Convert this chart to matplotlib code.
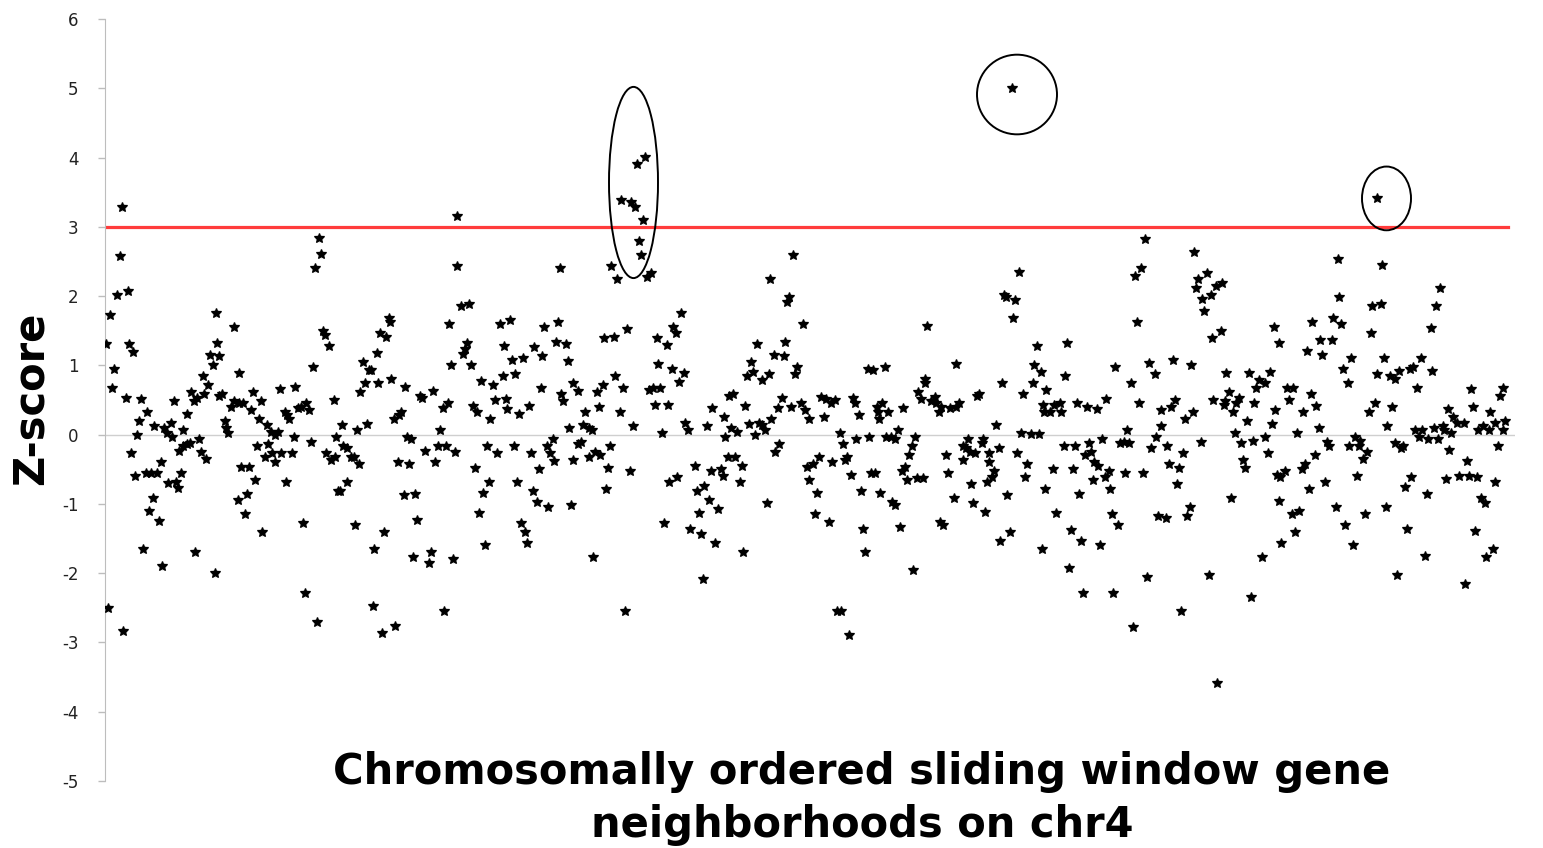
import matplotlib
matplotlib.use('Agg')
import matplotlib.pyplot as plt
import matplotlib.patches as pch

seg01 = [(1, 1.31), (3, -2.5), (5, 1.72), (7, 0.68), (9, 0.95), (12, 2.02), (15, 2.58), (17, 3.29),
         (18, -2.83), (21, 0.53), (23, 2.08), (24, 1.31), (26, -0.26), (28, 1.2), (30, -0.6), (32, -0.01),
         (34, 0.2), (36, 0.52), (38, -1.65), (41, -0.55), (42, 0.33), (44, -1.1), (46, -0.55), (48, -0.91),
         (49, 0.12), (52, -0.55), (54, -1.24), (56, -0.4), (57, -1.9), (59, 0.1), (62, 0.03), (63, -0.7),
         (66, 0.17), (67, -0.04), (69, 0.48), (71, -0.68), (73, -0.77), (74, -0.24), (76, -0.56), (78, 0.07),
         (78, -0.17), (82, 0.3), (82, -0.14), (85, -0.12), (86, 0.62), (89, 0.48), (90, -1.69), (92, 0.53),
         (94, -0.06), (96, -0.25), (98, 0.85), (99, 0.58), (101, -0.35), (103, 0.71), (105, 1.15), (108, 1.01),
         (110, -2.0), (111, 1.76), (112, 1.33), (114, 1.13), (114, 0.56)]
seg02 = [(117, 0.58), (120, 0.19), (121, 0.1), (123, 0.03), (126, 0.4), (129, 0.48), (129, 1.56), (133, -0.95),
         (134, 0.46), (134, 0.89), (136, -0.46), (138, 0.45), (140, -1.14), (142, -0.85), (144, -0.46), (146, 0.36),
         (148, 0.61), (150, -0.65), (152, -0.17), (154, 0.23), (156, 0.49), (157, -1.4), (160, -0.32), (162, 0.14),
         (163, -0.13), (166, 0.04), (167, -0.27), (170, 0.0), (170, -0.4), (173, 0.04), (175, 0.66), (176, -0.27),
         (180, 0.33), (181, -0.69), (182, 0.29), (184, 0.22), (187, -0.27), (189, -0.03), (190, 0.69), (193, 0.39),
         (196, 0.4), (198, -1.28), (200, -2.28), (201, 0.46), (204, 0.36), (206, -0.1), (208, 0.98), (210, 2.4),
         (212, -2.71), (214, 2.84), (216, 2.61), (218, 1.49), (220, 1.44), (221, -0.27), (224, 1.28), (226, -0.36),
         (229, 0.5), (230, -0.33), (231, -0.03), (233, -0.81)]
seg03 = [(235, -0.82), (237, 0.14), (238, -0.17), (242, -0.19), (242, -0.68), (246, -0.32), (249, -0.33),
         (250, -1.3), (252, 0.06), (254, -0.42), (255, 0.61), (258, 1.05), (260, 0.75), (262, 0.16), (264, 0.94),
         (266, 0.94), (268, -2.48), (269, -1.65), (272, 1.18), (273, 0.74), (275, 1.46), (277, -2.86), (279, -1.41),
         (281, 1.41), (284, 1.69), (285, 1.62), (286, 0.81), (289, 0.22), (290, -2.76), (293, -0.4), (294, 0.29),
         (296, 0.32), (299, -0.87), (300, 0.69), (302, -0.04), (304, -0.42), (306, -0.07), (308, -1.76),
         (310, -0.85), (312, -1.23), (315, 0.56), (317, 0.53), (320, -0.23), (324, -1.86), (326, -1.69), (328, 0.63),
         (330, -0.4), (333, -0.16), (335, 0.06), (338, 0.39), (339, -2.54), (341, -0.17), (343, 0.46), (344, 1.59),
         (346, 1.0), (348, -1.8), (350, -0.25)]
seg04 = [(352, 3.15), (352, 2.44), (356, 1.85), (358, 1.17), (360, 1.23), (362, 1.33), (364, 1.89), (366, 1.01),
         (368, 0.42), (370, -0.48), (372, 0.33), (374, -1.13), (376, 0.78), (378, -0.84), (380, -1.6), (382, -0.16),
         (384, -0.69), (385, 0.23), (388, 0.72), (390, 0.5), (392, -0.26), (395, 1.59), (398, 0.84), (399, 1.28),
         (401, 0.52), (402, 0.37), (405, 1.66), (407, 1.08), (409, -0.17), (410, 0.87), (412, -0.69), (414, 0.3),
         (416, -1.27), (418, 1.11), (420, -1.4), (422, -1.56), (424, 0.42), (426, -0.27), (428, -0.82), (429, 1.26),
         (432, -0.97), (434, -0.5), (436, 0.68), (437, 1.14), (439, 1.56), (442, -0.17), (443, -1.04), (445, -0.26),
         (448, -0.06), (449, -0.38), (451, 1.34), (453, 1.62), (455, 2.41), (456, 0.58), (458, 0.49), (461, 1.31),
         (463, 1.07), (464, 0.1), (466, -1.02), (468, 0.74), (468, -0.36)]
seg05 = [(473, 0.63), (473, -0.14), (476, -0.1), (478, 0.14), (480, 0.32), (484, 0.1), (484, -0.32), (487, 0.06),
         (488, -1.76), (490, -0.25), (492, 0.61), (494, 0.4), (495, -0.3), (498, 0.71), (499, 1.39), (501, -0.79),
         (503, -0.48), (505, -0.17), (506, 2.44), (509, 1.41), (510, 0.85), (512, 2.24), (515, 0.33), (516, 3.38),
         (518, 0.68), (520, -2.55), (522, 1.53), (525, -0.53), (526, 3.36), (528, 0.13), (530, 3.28), (532, 3.9),
         (534, 2.79), (536, 2.6), (538, 3.1), (540, 4.01), (542, 2.28), (544, 0.65), (546, 2.34), (548, 0.68),
         (550, 0.43), (552, 1.4), (553, 1.02), (555, 0.68), (557, 0.03), (559, -1.27), (562, 1.3), (563, 0.43),
         (564, -0.69), (567, 0.95), (568, 1.56), (571, 1.47), (572, -0.61), (574, 0.76), (576, 1.76), (579, 0.89),
         (580, 0.17), (583, 0.06), (585, -1.36)]
seg06 = [(590, -0.45), (592, -0.82), (594, -1.13), (596, -1.44), (598, -2.09), (599, -0.74), (602, 0.13),
         (604, -0.95), (606, -0.52), (607, 0.39), (610, -1.56), (613, -1.07), (616, -0.5), (618, -0.59), (619, 0.26),
         (620, -0.04), (623, -0.33), (624, 0.56), (626, 0.1), (628, 0.59), (630, -0.32), (632, 0.04), (635, -0.68),
         (637, -0.45), (638, -1.69), (640, 0.42), (642, 0.84), (644, 0.16), (646, 1.05), (648, 0.91), (650, -0.01),
         (652, 1.31), (654, 0.17), (657, 0.14), (657, 0.79), (660, 0.06), (662, -0.98), (664, 0.87), (665, 2.24),
         (666, 0.23), (669, 1.15), (670, -0.25), (673, 0.38), (674, -0.14), (677, 0.53), (679, 1.13), (680, 1.34),
         (682, 1.92), (684, 1.99), (686, 0.4), (688, 2.6), (690, 0.88), (692, 0.97), (696, 0.46), (698, 1.6),
         (700, 0.36), (702, -0.46), (704, 0.23), (704, -0.65)]
seg07 = [(708, -0.43), (710, -1.15), (712, -0.84), (714, -0.33), (716, 0.55), (719, 0.25), (721, 0.52),
         (724, -1.26), (726, 0.46), (727, -0.39), (730, 0.5), (732, -2.55), (735, 0.03), (736, -2.55), (738, -0.13),
         (740, -0.36), (742, -0.32), (744, -2.89), (746, -0.58), (748, 0.53), (750, 0.46), (751, -0.07), (754, 0.29),
         (756, -0.82), (758, -1.36), (760, -1.69), (763, 0.95), (764, -0.03), (766, -0.55), (768, 0.94),
         (770, -0.55), (772, 0.4), (773, 0.33), (774, 0.22), (775, -0.84), (777, 0.45), (780, 0.98), (781, -0.04),
         (783, 0.33), (786, -0.03), (787, -0.97), (790, -0.06), (790, -1.02), (793, 0.06), (795, -1.34),
         (797, -0.53), (798, 0.38), (800, -0.46), (802, -0.65), (804, -0.29), (807, -0.16), (808, -1.95),
         (810, -0.03), (812, -0.63), (813, 0.61), (816, 0.52), (818, -0.62), (820, 0.81), (820, 0.74), (822, 1.57)]
seg08 = [(826, 0.49), (830, 0.55), (831, 0.46), (834, 0.33), (835, -1.26), (836, 0.4), (838, -1.3), (841, -0.3),
         (843, -0.55), (845, 0.39), (849, -0.91), (851, 1.02), (851, 0.4), (854, 0.46), (858, -0.17), (858, -0.36),
         (861, -0.19), (863, -0.07), (865, -0.25), (866, -0.71), (868, -0.98), (870, -0.26), (872, 0.56),
         (874, 0.59), (877, -0.12), (878, -0.07), (880, -1.11), (882, -0.69), (884, -0.27), (884, -0.39),
         (887, -0.61), (889, -0.52), (891, 0.14), (894, -0.19), (895, -1.54), (897, 0.75), (899, 2.02), (901, 1.98),
         (902, -0.87), (905, -1.4), (907, 5.01), (908, 1.69), (910, 1.95), (912, -0.27), (914, 2.35), (916, 0.03),
         (918, 0.58), (920, -0.61), (922, -0.42), (926, 0.01), (928, 0.75), (929, 1.0), (932, 1.28), (934, 0.01),
         (936, 0.91), (937, -1.65), (938, 0.43), (940, -0.78), (941, 0.65)]
seg09 = [(939, 0.32), (945, 0.33), (948, -0.5), (949, 0.43), (951, -1.13), (955, 0.46), (956, 0.33), (959, -0.16),
         (960, 0.84), (962, 1.33), (964, -1.92), (966, -1.37), (968, -0.49), (970, -0.16), (972, 0.45),
         (974, -0.85), (976, -1.53), (978, -2.28), (980, -0.29), (982, 0.4), (984, -0.12), (986, -0.25),
         (988, -0.65), (989, -0.4), (992, 0.37), (993, -0.45), (995, -1.59), (997, -0.07), (1000, -0.61),
         (1001, 0.52), (1004, -0.52), (1005, -0.78), (1007, -1.14), (1008, -2.28), (1010, 0.98), (1013, -1.3),
         (1015, -0.12), (1019, -0.1), (1020, -0.55), (1022, 0.07), (1024, -0.12), (1026, 0.74), (1028, -2.77),
         (1030, 2.29), (1032, 1.62), (1034, 0.46), (1036, 2.4), (1038, -0.55), (1040, 2.83), (1042, -2.05),
         (1044, 1.04), (1046, -0.2), (1050, 0.87), (1051, -0.03), (1053, -1.18), (1056, 0.36), (1056, 0.12)]
seg10 = [(1061, -1.2), (1062, -0.17), (1064, -0.42), (1066, 0.4), (1068, 1.08), (1070, 0.5), (1072, -0.71),
         (1074, -0.48), (1076, -2.54), (1078, -0.26), (1080, 0.22), (1082, -1.18), (1085, -1.04), (1086, 1.0),
         (1088, 0.33), (1089, 2.63), (1091, 2.11), (1093, 2.24), (1096, -0.1), (1097, 1.96), (1099, 1.79),
         (1102, 2.34), (1104, -2.03), (1106, 2.02), (1107, 1.39), (1108, 0.5), (1111, 2.14), (1112, -3.59),
         (1116, 1.49), (1117, 2.19), (1119, 0.43), (1120, 0.48), (1121, 0.89), (1124, 0.61), (1126, -0.92),
         (1128, 0.33), (1130, 0.03), (1131, 0.46), (1134, 0.53), (1136, -0.12), (1138, -0.36), (1140, -0.48),
         (1142, 0.19), (1144, 0.89), (1146, -2.35), (1148, -0.09), (1149, 0.46), (1151, 0.68), (1154, 0.79),
         (1157, -1.77), (1160, 0.75), (1160, -0.04), (1163, -0.26), (1165, 0.91), (1167, 0.16), (1169, 1.56),
         (1170, 0.36), (1172, -0.58), (1174, 1.33), (1174, -0.96), (1176, -1.56)]
seg11 = [(1175, -0.61), (1180, -0.52), (1182, 0.68), (1184, 0.5), (1187, -1.14), (1188, 0.68), (1190, -1.41),
         (1192, 0.03), (1194, -1.1), (1197, -0.49), (1198, 0.32), (1200, -0.43), (1202, 1.21), (1204, -0.78),
         (1206, 0.59), (1207, 1.62), (1210, -0.3), (1211, 0.42), (1214, 0.1), (1215, 1.36), (1217, 1.15),
         (1220, -0.68), (1222, -0.1), (1224, -0.17), (1227, 1.36), (1228, 1.69), (1231, -1.05), (1233, 2.53),
         (1234, 1.99), (1236, 1.59), (1238, 0.95), (1240, -1.31), (1243, 0.75), (1244, -0.17), (1246, 1.1),
         (1248, -1.6), (1250, -0.03), (1252, -0.59), (1254, -0.16), (1255, -0.09), (1258, -0.35), (1260, -1.15),
         (1262, -0.25), (1264, 0.32), (1266, 1.47), (1267, 1.85), (1270, 0.45), (1272, 3.42), (1272, 0.88),
         (1276, 1.89), (1277, 2.45), (1279, 1.1), (1281, -1.05), (1282, 0.13), (1285, 0.84), (1287, 0.4),
         (1290, 0.81), (1290, -0.12), (1292, -2.03), (1294, 0.92)]
seg12 = [(1296, -0.19), (1298, -0.16), (1300, -0.75), (1302, -1.36), (1305, 0.95), (1306, -0.61), (1308, 0.98),
         (1310, 0.06), (1312, 0.68), (1314, -0.03), (1316, 1.11), (1317, 0.06), (1320, -1.75), (1322, -0.85),
         (1323, -0.07), (1326, 1.54), (1327, 0.92), (1329, 0.1), (1331, 1.85), (1333, -0.07), (1335, 2.12),
         (1338, 0.12), (1339, 0.06), (1341, -0.64), (1343, 0.37), (1344, -0.22), (1346, 0.03), (1348, 0.26),
         (1352, 0.17), (1354, -0.59), (1359, 0.17), (1360, -2.16), (1362, -0.38), (1364, -0.59), (1366, 0.66),
         (1368, 0.4), (1370, -1.39), (1372, -0.61), (1373, 0.06), (1376, -0.92), (1378, 0.12), (1380, -0.98),
         (1381, -1.77), (1384, 0.07), (1385, 0.32), (1388, -1.65), (1390, 0.17), (1390, -0.69), (1393, -0.16),
         (1395, 0.56), (1398, 0.68), (1398, 0.07), (1400, 0.19)]

threshold = 3
yticks = list(range(-5, 7))
xlabel_lines = ['Chromosomally ordered sliding window gene', 'neighborhoods on chr4']
ylabel = 'Z-score'

segments = [seg01, seg02, seg03, seg04, seg05, seg06, seg07, seg08, seg09, seg10, seg11, seg12]
pts = [p for seg in segments for p in seg]
xs = [p[0] for p in pts]
zs = [p[1] for p in pts]

plt.rcParams['axes.unicode_minus'] = False
fig = plt.figure(figsize=(15.43, 8.48), dpi=100)
ax = fig.add_axes([105 / 1543, 67 / 848, 1410 / 1543, 762 / 848])

ax.axhline(0, color='#cfcfcf', lw=1, zorder=1)
ax.plot([0, 1403], [threshold, threshold], color='#ff3b3b', lw=2.3, zorder=2)
# soft halo + star, like the blurry excel markers
ax.plot(xs, zs, ls='none', marker='o', ms=5.5, color='#555555', alpha=0.35, mew=0, zorder=3)
ax.plot(xs, zs, ls='none', marker='*', ms=7.5, color='black', mew=0.9, zorder=3)

# circled hits
for cx, cy, w, h in [(528.5, 3.64, 49, 2.76), (912, 4.91, 80, 1.15), (1281.5, 3.41, 49, 0.92)]:
    ax.add_patch(pch.Ellipse((cx, cy), w, h, fc='none', ec='black', lw=1.4, zorder=4))

ax.set_xlim(0, 1410)
ax.set_ylim(-5, 6)
ax.set_yticks(yticks)
ax.set_yticklabels([str(t) for t in yticks])
ax.set_xticks([])
for s in ['top', 'right', 'bottom']:
    ax.spines[s].set_visible(False)
ax.spines['left'].set_color('#bdbdbd')
ax.tick_params(axis='y', length=5, width=1, color='#bdbdbd', pad=14, labelsize=12, labelcolor='#222222')

fig.text(31 / 1543, 450 / 848, ylabel, rotation=90, ha='center', va='center',
         fontsize=30, fontweight='bold')
fig.text(862 / 1543, 76 / 848, xlabel_lines[0], ha='center', va='center', fontsize=30, fontweight='bold')
fig.text(862 / 1543, 23 / 848, xlabel_lines[1], ha='center', va='center', fontsize=30, fontweight='bold')

fig.savefig('out.png', dpi=100)
